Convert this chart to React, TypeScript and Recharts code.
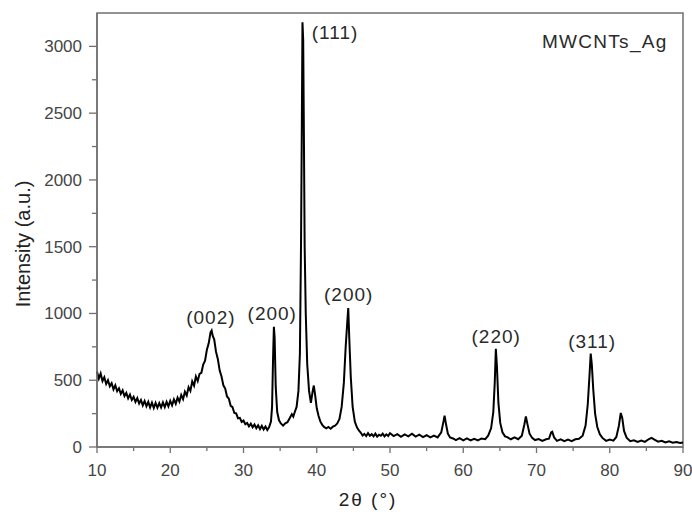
import { LineChart, Line, XAxis, YAxis, ReferenceArea, ReferenceDot } from 'recharts'

// 2θ (deg), intensity (a.u.)
const lowAngle: [number, number][] = [
  [10.0, 565], [10.25, 512], [10.5, 550], [10.75, 494], [11.0, 522], [11.25, 472], [11.5, 500], [11.75, 455],
  [12.0, 478], [12.25, 432], [12.5, 462], [12.75, 418], [13.0, 440], [13.25, 398], [13.5, 424], [13.75, 382],
  [14.0, 405], [14.25, 364], [14.5, 392], [14.75, 352], [15.0, 375], [15.25, 338], [15.5, 366], [15.75, 326],
  [16.0, 352], [16.25, 312], [16.5, 345], [16.75, 306], [17.0, 338], [17.25, 296], [17.5, 332], [17.75, 292],
  [18.0, 330], [18.25, 294], [18.5, 328], [18.75, 296], [19.0, 334], [19.25, 299], [19.5, 338], [19.75, 304],
  [20.0, 346], [20.25, 312], [20.5, 356], [20.75, 324], [21.0, 370], [21.25, 340], [21.5, 390], [21.75, 358],
  [22.0, 414], [22.25, 386], [22.5, 448], [22.75, 420], [23.0, 492], [23.25, 460], [23.5, 528], [23.75, 494],
  [24.0, 548], [24.25, 556], [24.5, 618], [24.75, 646], [25.0, 728], [25.25, 776], [25.5, 858], [25.65, 872],
  [25.8, 832], [26.0, 806], [26.25, 712], [26.5, 658], [26.75, 572], [27.0, 528], [27.25, 462], [27.5, 438],
  [27.75, 378], [28.0, 362], [28.25, 308], [28.5, 298], [28.75, 255], [29.0, 252], [29.25, 215], [29.5, 218],
  [29.75, 188], [30.0, 198], [30.25, 170], [30.5, 180], [30.75, 154], [31.0, 174], [31.25, 148], [31.5, 168],
  [31.75, 140], [32.0, 162], [32.25, 134], [32.5, 158], [32.75, 131], [33.0, 153], [33.25, 128],
]

const silverRegion: [number, number][] = [
  [33.5, 150], [33.75, 190], [33.9, 300], [34.05, 700], [34.15, 900], [34.25, 820], [34.4, 450], [34.6, 262],
  [34.85, 200], [35.1, 176], [35.4, 160], [35.7, 178], [36.0, 186], [36.3, 215], [36.6, 246], [36.8, 228],
  [37.0, 262], [37.25, 300], [37.5, 420], [37.7, 700], [37.85, 1500], [37.95, 2300], [38.05, 3180], [38.15, 3050],
  [38.25, 2300], [38.35, 1500], [38.5, 1000], [38.7, 620], [38.95, 420], [39.2, 330], [39.45, 420], [39.6, 460],
  [39.8, 380], [40.0, 290], [40.25, 232], [40.5, 190], [40.75, 166], [41.0, 150], [41.3, 140], [41.6, 150],
  [41.9, 137], [42.2, 152], [42.5, 160], [42.8, 176], [43.1, 210], [43.4, 300], [43.7, 480], [43.95, 750],
  [44.15, 920], [44.3, 1040], [44.45, 800], [44.65, 520], [44.9, 300], [45.2, 190], [45.5, 145], [45.8, 120],
]

const highAngle: [number, number][] = [
  [46.0, 108], [46.25, 86], [46.5, 98], [46.75, 82], [47.0, 104], [47.25, 84], [47.5, 96], [47.75, 80],
  [48.0, 100], [48.25, 78], [48.5, 92], [48.75, 84], [49.0, 100], [49.25, 80], [49.5, 95], [49.75, 82],
  [50.0, 104], [50.5, 82], [51.0, 96], [51.5, 76], [52.0, 94], [52.5, 80], [53.0, 100], [53.5, 78],
  [54.0, 92], [54.5, 74], [55.0, 88], [55.5, 72], [56.0, 86], [56.5, 72], [57.0, 110], [57.3, 190],
  [57.45, 235], [57.65, 170], [57.9, 100], [58.2, 72], [58.6, 64], [59.0, 52], [59.5, 66], [60.0, 50],
  [60.5, 64], [61.0, 50], [61.5, 62], [62.0, 50], [62.5, 64], [63.0, 58], [63.4, 85], [63.8, 140],
  [64.1, 260], [64.3, 480], [64.45, 735], [64.6, 600], [64.8, 330], [65.05, 180], [65.35, 110], [65.7, 80],
  [66.0, 74], [66.5, 58], [67.0, 72], [67.5, 58], [68.0, 85], [68.35, 170], [68.55, 228], [68.75, 175],
  [69.05, 100], [69.4, 68], [69.8, 52], [70.3, 60], [70.8, 46], [71.3, 58], [71.7, 62], [72.0, 110],
  [72.15, 115], [72.4, 72], [72.8, 46], [73.3, 58], [73.8, 44], [74.3, 56], [74.8, 44], [75.3, 58],
  [75.8, 62], [76.3, 85], [76.7, 160], [77.0, 320], [77.25, 550], [77.4, 700], [77.55, 620], [77.75, 430],
  [78.0, 250], [78.3, 150], [78.65, 95], [79.0, 68], [79.5, 46], [80.0, 56], [80.5, 48], [80.9, 75],
  [81.25, 160], [81.5, 255], [81.7, 220], [81.95, 120], [82.3, 70], [82.8, 44], [83.3, 50], [83.8, 38],
  [84.3, 48], [84.8, 38], [85.3, 58], [85.7, 68], [86.1, 56], [86.6, 40], [87.1, 46], [87.6, 34],
  [88.1, 42], [88.6, 32], [89.1, 38], [89.6, 30], [90.0, 34],
]

const peakLabels = [
  { text: '(002)', t: 25.55, i: 970 },
  { text: '(200)', t: 33.93, i: 1000 },
  { text: '(111)', t: 42.5, i: 3105 },
  { text: '(200)', t: 44.36, i: 1140 },
  { text: '(220)', t: 64.5, i: 827 },
  { text: '(311)', t: 77.6, i: 790 },
]

const xTicks = [10, 15, 20, 25, 30, 35, 40, 45, 50, 55, 60, 65, 70, 75, 80, 85, 90]
const yTicks = [0, 250, 500, 750, 1000, 1250, 1500, 1750, 2000, 2250, 2500, 2750, 3000]

const scan = [...lowAngle, ...silverRegion, ...highAngle].map(([t, i]) => ({ t, i }))

const FONT = '"Liberation Sans", Arial, sans-serif'
const AXIS = '#707070'

const XTick = ({ x, y, payload }: any) => {
  const major = payload.value % 10 === 0
  return (
    <g>
      <line x1={x} x2={x} y1={y} y2={y + (major ? 6 : 4)} stroke={AXIS} strokeWidth={1.3} />
      {major && (
        <text x={x} y={y + 29} textAnchor="middle" fontSize={17} fontFamily={FONT} fill="#454545">
          {payload.value}
        </text>
      )}
    </g>
  )
}

const YTick = ({ x, y, payload }: any) => {
  const major = payload.value % 500 === 0
  return (
    <g>
      <line x1={x - (major ? 8 : 5)} x2={x} y1={y} y2={y} stroke={AXIS} strokeWidth={1.3} />
      {major && (
        <text x={x - 15} y={y + 6} textAnchor="end" fontSize={17} fontFamily={FONT} fill="#454545">
          {payload.value}
        </text>
      )}
    </g>
  )
}

export default function App() {
  return (
    <div style={{ position: 'absolute', left: 0, top: 0, width: 692, height: 514, background: '#fff' }}>
      <LineChart width={692} height={514} data={scan} margin={{ top: 13, right: 9, bottom: 0, left: 0 }}>
        <XAxis
          dataKey="t"
          type="number"
          domain={[10, 90]}
          ticks={xTicks}
          height={67}
          tickLine={false}
          tickSize={0}
          tickMargin={0}
          axisLine={{ stroke: AXIS, strokeWidth: 1.5 }}
          tick={<XTick />}
          interval={0}
        />
        <YAxis
          type="number"
          domain={[0, 3250]}
          ticks={yTicks}
          width={97}
          tickLine={false}
          tickSize={0}
          tickMargin={0}
          axisLine={{ stroke: AXIS, strokeWidth: 1.5 }}
          tick={<YTick />}
          interval={0}
        />
        <ReferenceArea x1={10} x2={90} y1={0} y2={3250} fill="none" stroke={AXIS} strokeWidth={1.5} />
        <Line
          dataKey="i"
          type="linear"
          stroke="#000"
          strokeWidth={2}
          strokeLinejoin="miter"
          dot={false}
          isAnimationActive={false}
        />
        {peakLabels.map((p, k) => (
          <ReferenceDot
            key={k}
            x={p.t}
            y={p.i}
            r={0}
            shape={(s: any) => (
              <text
                x={s.cx}
                y={s.cy}
                dy="0.35em"
                textAnchor="middle"
                fontSize={19}
                letterSpacing={1}
                fontFamily={FONT}
                fill="#2a2a2a"
              >
                {p.text}
              </text>
            )}
          />
        ))}
        <ReferenceDot
          x={87.9}
          y={3040}
          r={0}
          shape={(s: any) => (
            <text x={s.cx} y={s.cy} dy="0.35em" textAnchor="end" fontSize={19} letterSpacing={1.3} fontFamily={FONT} fill="#2a2a2a">
              MWCNTs_Ag
            </text>
          )}
        />
      </LineChart>
      <svg width={692} height={514} style={{ position: 'absolute', left: 0, top: 0, pointerEvents: 'none' }}>
        <text
          transform="translate(30, 244) rotate(-90)"
          textAnchor="middle"
          fontSize={20}
          fontFamily={FONT}
          fill="#222"
        >
          Intensity (a.u.)
        </text>
        <text x={368} y={506} textAnchor="middle" fontSize={19} letterSpacing={2} fontFamily={FONT} fill="#222">
          2θ (°)
        </text>
      </svg>
    </div>
  )
}
